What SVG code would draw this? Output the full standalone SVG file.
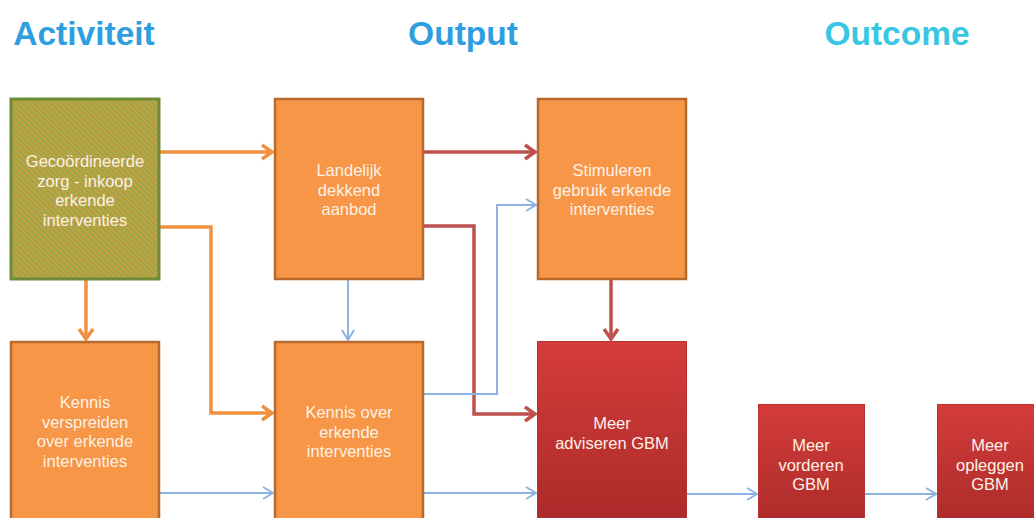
<svg xmlns="http://www.w3.org/2000/svg" width="1034" height="518" viewBox="0 0 1034 518">
<style>
.title{font-family:"Liberation Sans",Arial,sans-serif;font-weight:bold;font-size:33.5px;text-anchor:middle}
.lbl{font-family:"Liberation Sans",Arial,sans-serif;font-size:16.5px;fill:#fdf1e6;text-anchor:middle}
.org{fill:#f79646;stroke:#b8692c;stroke-width:2.5}
.red{fill:url(#redg);stroke:#b83232;stroke-width:1}
.co{fill:none;stroke:#f0913f;stroke-width:3.5}
.cr{fill:none;stroke:#c0504d;stroke-width:3.5}
.cb{fill:none;stroke:#8db3e2;stroke-width:2}
</style>
<defs>
<pattern id="hatch" width="4" height="4" patternUnits="userSpaceOnUse" patternTransform="rotate(-45)">
<rect width="4" height="4" fill="#98a845"/>
<rect width="2" height="4" fill="#c99e45"/>
</pattern>
<linearGradient id="redg" x1="0" y1="0" x2="0" y2="1">
<stop offset="0" stop-color="#d43c3b"/>
<stop offset="1" stop-color="#a82a29"/>
</linearGradient>
<marker id="mo" markerUnits="userSpaceOnUse" markerWidth="16" markerHeight="18" refX="12" refY="9" orient="auto">
<path d="M2,2 L12,9 L2,16" fill="none" stroke="#f0913f" stroke-width="3.5"/>
</marker>
<marker id="mr" markerUnits="userSpaceOnUse" markerWidth="16" markerHeight="18" refX="12" refY="9" orient="auto">
<path d="M2,2 L12,9 L2,16" fill="none" stroke="#c0504d" stroke-width="3.5"/>
</marker>
<marker id="mb" markerUnits="userSpaceOnUse" markerWidth="14" markerHeight="16" refX="12" refY="8" orient="auto">
<path d="M2,2 L12,8 L2,14" fill="none" stroke="#8db3e2" stroke-width="2"/>
</marker>
</defs>
<rect width="1034" height="518" fill="#ffffff"/>

<g id="titles">
<text class="title" x="84" y="45" fill="#2f9ee0">Activiteit</text>
<text class="title" x="463" y="45" fill="#2f9ee0">Output</text>
<text class="title" x="897" y="45" fill="#38c6e2">Outcome</text>
</g>

<g id="connectors">
<path class="co" d="M160,152 H272" marker-end="url(#mo)"/>
<path class="co" d="M160,227 H211 V413 H272" marker-end="url(#mo)"/>
<path class="co" d="M86,280 V339" marker-end="url(#mo)"/>
<path class="cr" d="M423,152 H535" marker-end="url(#mr)"/>
<path class="cr" d="M423,226 H474 V414 H535" marker-end="url(#mr)"/>
<path class="cr" d="M611,279 V339" marker-end="url(#mr)"/>
<path class="cb" d="M348,279 V340" marker-end="url(#mb)"/>
<path class="cb" d="M423,394 H497 V205 H536" marker-end="url(#mb)"/>
<path class="cb" d="M160,493 H273" marker-end="url(#mb)"/>
<path class="cb" d="M423,493 H536" marker-end="url(#mb)"/>
<path class="cb" d="M686,494 H757" marker-end="url(#mb)"/>
<path class="cb" d="M865,494 H936" marker-end="url(#mb)"/>
</g>

<g id="n1">
<rect x="11" y="99" width="148" height="180" fill="url(#hatch)" stroke="#6e8b37" stroke-width="3"/>
<text class="lbl" x="85" y="167">Gecoördineerde<tspan x="85" dy="19.7">zorg - inkoop</tspan><tspan x="85" dy="19.7">erkende</tspan><tspan x="85" dy="19.7">interventies</tspan></text>
</g>
<g id="n2">
<rect class="org" x="275" y="99" width="148" height="180"/>
<text class="lbl" x="349" y="176">Landelijk<tspan x="349" dy="19.5">dekkend</tspan><tspan x="349" dy="19.5">aanbod</tspan></text>
</g>
<g id="n3">
<rect class="org" x="538" y="99" width="148" height="180"/>
<text class="lbl" x="612" y="176">Stimuleren<tspan x="612" dy="19.5">gebruik erkende</tspan><tspan x="612" dy="19.5">interventies</tspan></text>
</g>
<g id="n4">
<rect class="org" x="11" y="342" width="148" height="190"/>
<text class="lbl" x="85" y="408">Kennis<tspan x="85" dy="19.7">verspreiden</tspan><tspan x="85" dy="19.7">over erkende</tspan><tspan x="85" dy="19.7">interventies</tspan></text>
</g>
<g id="n5">
<rect class="org" x="275" y="342" width="148" height="190"/>
<text class="lbl" x="349" y="418">Kennis over<tspan x="349" dy="19.5">erkende</tspan><tspan x="349" dy="19.5">interventies</tspan></text>
</g>
<g id="n6">
<rect class="red" x="537.5" y="341.5" width="149" height="190"/>
<text class="lbl" x="612" y="429">Meer<tspan x="612" dy="19.5">adviseren GBM</tspan></text>
</g>
<g id="n7">
<rect class="red" x="758.5" y="404.5" width="106" height="130"/>
<text class="lbl" x="811" y="451">Meer<tspan x="811" dy="19.5">vorderen</tspan><tspan x="811" dy="19.5">GBM</tspan></text>
</g>
<g id="n8">
<rect class="red" x="937.5" y="404.5" width="106" height="130"/>
<text class="lbl" x="990" y="451">Meer<tspan x="990" dy="19.5">opleggen</tspan><tspan x="990" dy="19.5">GBM</tspan></text>
</g>
</svg>
